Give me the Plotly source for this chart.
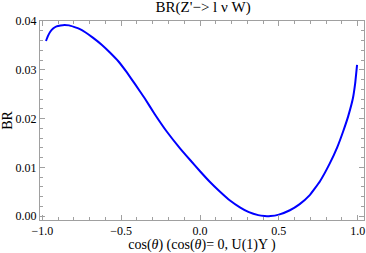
import plotly.graph_objects as go

# Data
cos_theta = [-0.977, -0.965, -0.95, -0.93, -0.91, -0.885, -0.859, -0.83, -0.80, -0.765,
             -0.728, -0.68, -0.622, -0.57, -0.517, -0.465, -0.411, -0.35, -0.289, -0.21,
             -0.127, -0.06, 0.0, 0.06, 0.127, 0.19, 0.253, 0.31, 0.369, 0.41, 0.447,
             0.50, 0.570, 0.63, 0.696, 0.76, 0.823, 0.87, 0.907, 0.94, 0.970, 0.984, 0.996]
br_values = [0.0359, 0.0369, 0.0378, 0.0385, 0.0389, 0.0391, 0.0392, 0.0391, 0.0388, 0.0384,
             0.0377, 0.0366, 0.0351, 0.0335, 0.0317, 0.0295, 0.0270, 0.0241, 0.0210, 0.0173,
             0.0139, 0.0114, 0.0092, 0.0071, 0.0050, 0.0032, 0.0018, 0.0008, 0.0002, 0.00003, 0.0,
             0.0003, 0.0012, 0.0024, 0.0043, 0.0071, 0.0108, 0.0141, 0.0173, 0.0205, 0.0242,
             0.0272, 0.0310]

x_ticks = [-1.0, -0.5, 0.0, 0.5, 1.0]
y_ticks = [0.00, 0.01, 0.02, 0.03, 0.04]

FONT = "Liberation Serif"
FRAME = "#a0a0a0"

fig = go.Figure()
fig.add_trace(go.Scatter(x=cos_theta, y=br_values, mode="lines",
                         line=dict(color="#0000ff", width=2, shape="spline", smoothing=0.3),
                         showlegend=False))

fig.update_layout(
    width=366, height=253,
    margin=dict(l=40, r=2, t=21, b=33),
    paper_bgcolor="white", plot_bgcolor="white",
    font=dict(family=FONT, size=12, color="black"),
    title=dict(text="BR(Z'\u2212> l \u03bd W)", x=0.555, xanchor="center",
               y=0.995, yanchor="top", font=dict(family=FONT, size=15, color="black")),
    xaxis=dict(range=[-1.015, 1.04], tickvals=x_ticks, tickformat=".1f", automargin=False,
               ticks="inside", ticklen=5, tickcolor=FRAME, tickwidth=1,
               minor=dict(ticks="inside", dtick=0.1, ticklen=3, tickcolor=FRAME),
               showline=True, linecolor=FRAME, linewidth=1, mirror="ticks",
               showgrid=False, zeroline=False,
               tickfont=dict(family=FONT, size=12, color="black"),
               title=dict(text="cos(<i>\u03b8</i>) (cos(<i>\u03b8</i>)= 0, U(1)Y )",
                          standoff=6, font=dict(family=FONT, size=14, color="black"))),
    yaxis=dict(range=[-0.0008, 0.04], tickvals=y_ticks, tickformat=".2f", automargin=False,
               ticks="inside", ticklen=5, tickcolor=FRAME, tickwidth=1,
               minor=dict(ticks="inside", dtick=0.002, ticklen=3, tickcolor=FRAME),
               showline=True, linecolor=FRAME, linewidth=1, mirror="ticks",
               showgrid=False, zeroline=False,
               tickfont=dict(family=FONT, size=12, color="black"),
               title=dict(text="BR", standoff=0, font=dict(family=FONT, size=14, color="black"))),
)

fig.write_html("out.html", config={"displayModeBar": False},
               post_script="document.body.style.margin='0';document.body.style.overflow='hidden';")
